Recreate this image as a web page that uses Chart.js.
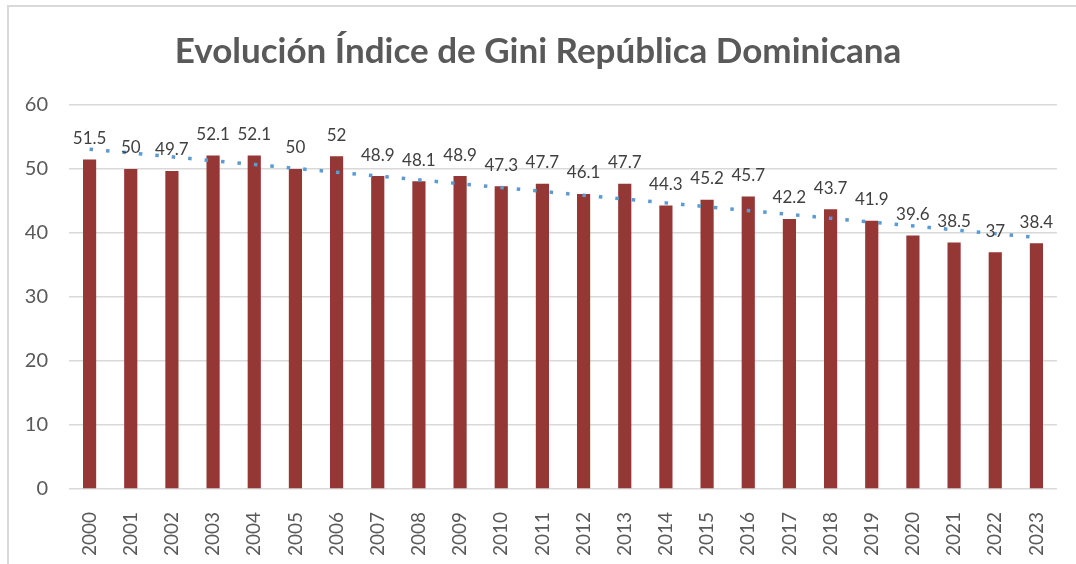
<!DOCTYPE html>
<html>
<head>
<meta charset="utf-8">
<script src="https://cdn.jsdelivr.net/npm/chart.js@4.4.1/dist/chart.umd.min.js"></script>
<style>
  html, body { margin: 0; padding: 0; background: #fff; overflow: hidden; }
  #wrap { position: relative; width: 1076px; height: 564px; overflow: hidden; }
  #frame { position: absolute; left: 7px; top: 5px; width: 1200px; height: 700px;
           border-left: 2px solid #d9d9d9; border-top: 2px solid #d9d9d9; }
  canvas { position: absolute; left: 0; top: 0; }
</style>
</head>
<body>
<div id="wrap">
  <div id="frame"></div>
  <canvas id="gini" width="1076" height="600"></canvas>
</div>
<script>
const years = ['2000','2001','2002','2003','2004','2005','2006','2007','2008','2009','2010','2011',
               '2012','2013','2014','2015','2016','2017','2018','2019','2020','2021','2022','2023'];
const gini = [51.5, 50, 49.7, 52.1, 52.1, 50, 52, 48.9, 48.1, 48.9, 47.3, 47.7,
              46.1, 47.7, 44.3, 45.2, 45.7, 42.2, 43.7, 41.9, 39.6, 38.5, 37, 38.4];
// linear trend, only the two ends; the line is drawn straight between them
const trend = [53.1, null, null, null, null, null, null, null, null, null, null, null,
               null, null, null, null, null, null, null, null, null, null, null, 39.3];
const yTicks = { min: 0, max: 60, step: 10 };
const titleText = 'Evolución Índice de Gini República Dominicana';

const grey = '#595959';

// value labels above bars
const barLabels = {
  id: 'barLabels',
  afterDatasetsDraw(chart) {
    const meta = chart.getDatasetMeta(0);
    const ctx = chart.ctx;
    ctx.save();
    ctx.font = '17px Lato';
    ctx.fillStyle = '#404040';
    ctx.textAlign = 'center';
    ctx.textBaseline = 'middle';
    meta.data.forEach((el, i) => {
      ctx.fillText(String(gini[i]), el.x, el.y - 21);
    });
    ctx.restore();
  }
};

new Chart(document.getElementById('gini'), {
  data: {
    labels: years,
    datasets: [
      { type: 'bar', label: 'Gini', data: gini, backgroundColor: '#953735',
        barPercentage: 1, categoryPercentage: 0.32, order: 2 },
      { type: 'line', label: 'Tendencia', data: trend, spanGaps: true,
        borderColor: '#5b9bd5', borderWidth: 3.5, borderDash: [3.5, 13], borderCapStyle: 'butt',
        pointRadius: 0, fill: false, order: 1 }
    ]
  },
  options: {
    responsive: false,
    animation: false,
    layout: { padding: { top: 0, right: 19, left: 19, bottom: 0 } },
    plugins: {
      legend: { display: false },
      tooltip: { enabled: false },
      title: { display: true, text: titleText, color: grey,
               font: { family: 'Lato', size: 35, weight: 'bold' },
               padding: { top: 31, bottom: 32 } }
    },
    scales: {
      x: {
        grid: { display: false },
        border: { display: false },
        ticks: { color: grey, font: { family: 'Lato', size: 19 }, maxRotation: 90, minRotation: 90,
                 padding: 15, autoSkip: false },
        afterFit(s) { s.height = 111; }
      },
      y: {
        min: yTicks.min, max: yTicks.max,
        grid: { color: '#d9d9d9', lineWidth: 1.5, drawTicks: false },
        border: { display: false },
        ticks: { stepSize: yTicks.step, color: grey, font: { family: 'Lato', size: 20 }, padding: 21 },
        afterFit(s) { s.width = 50; }
      }
    }
  },
  plugins: [barLabels]
});
</script>
</body>
</html>
